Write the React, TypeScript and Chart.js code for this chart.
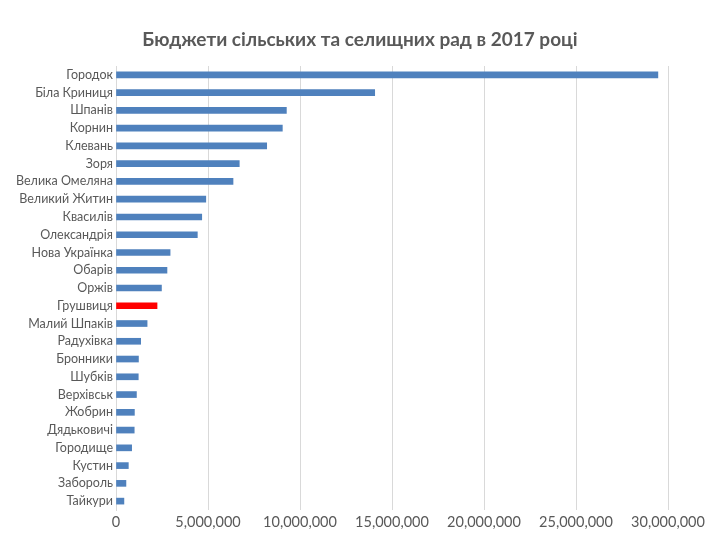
import React, { useEffect, useRef } from "react";
import { Chart, registerables } from "chart.js";

Chart.register(...registerables);

const categories = [
  "Городок",
  "Біла Криниця",
  "Шпанів",
  "Корнин",
  "Клевань",
  "Зоря",
  "Велика Омеляна",
  "Великий Житин",
  "Квасилів",
  "Олександрія",
  "Нова Українка",
  "Обарів",
  "Оржів",
  "Грушвиця",
  "Малий Шпаків",
  "Радухівка",
  "Бронники",
  "Шубків",
  "Верхівськ",
  "Жобрин",
  "Дядьковичі",
  "Городище",
  "Кустин",
  "Забороль",
  "Тайкури",
];

const budgets = [
  29450000, 14060000, 9260000, 9040000, 8190000, 6700000, 6360000, 4880000,
  4660000, 4420000, 2940000, 2770000, 2470000, 2230000, 1690000, 1340000,
  1220000, 1210000, 1110000, 1000000, 990000, 850000, 670000, 540000, 430000,
];

const highlighted = "Грушвиця";
const xTicks = [0, 5000000, 10000000, 15000000, 20000000, 25000000, 30000000];
const title = "Бюджети сільських та селищних рад в 2017 році";

export default function App() {
  const ref = useRef<HTMLCanvasElement | null>(null);

  useEffect(() => {
    if (!ref.current) return;
    const chart = new Chart(ref.current, {
      type: "bar",
      data: {
        labels: categories,
        datasets: [
          {
            data: budgets,
            backgroundColor: categories.map((c) =>
              c === highlighted ? "#FF0000" : "#4F81BD"
            ),
            barThickness: 6,
          },
        ],
      },
      options: {
        indexAxis: "y",
        animation: false,
        responsive: false,
        layout: { padding: { left: 0, right: 0, top: 0, bottom: 0 } },
        plugins: {
          legend: { display: false },
          tooltip: { enabled: false },
          title: {
            display: true,
            text: title,
            color: "#595959",
            font: { family: "Lato", size: 19, weight: "bold" },
            padding: { top: 28.6, bottom: 14.6 },
          },
        },
        scales: {
          x: {
            min: 0,
            max: 30000000,
            afterBuildTicks: (scale: any) => {
              scale.ticks = xTicks.map((v) => ({ value: v }));
            },
            afterFit: (scale: any) => {
              scale.height = 30;
            },
            ticks: {
              color: "#595959",
              font: { family: "Lato", size: 14.5 },
              padding: 4,
              maxRotation: 0,
              callback: (v: any) => Number(v).toLocaleString("en-US"),
            },
            grid: { color: "#D9D9D9", drawTicks: false },
            border: { display: false },
          },
          y: {
            afterFit: (scale: any) => {
              scale.width = 116;
            },
            ticks: {
              color: "#595959",
              font: { family: "Lato", size: 12.5 },
              padding: 3,
              autoSkip: false,
            },
            grid: { display: false, drawTicks: false },
            border: { display: true, color: "#D9D9D9" },
          },
          spacer: {
            type: "linear",
            position: "right",
            display: true,
            afterFit: (scale: any) => {
              scale.width = 52;
            },
            ticks: { display: false },
            grid: { display: false, drawTicks: false },
            border: { display: false },
          },
        },
      },
    });
    return () => chart.destroy();
  }, []);

  return (
    <div style={{ position: "absolute", left: 0, top: 0, width: 720, height: 540, background: "#fff" }}>
      <canvas ref={ref} width={720} height={540} />
    </div>
  );
}
